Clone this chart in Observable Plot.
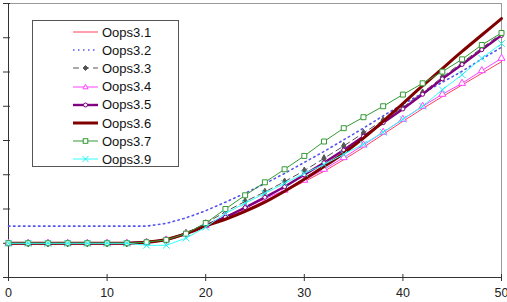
<!DOCTYPE html>
<html>
<head>
<meta charset="utf-8">
<script src="https://cdn.jsdelivr.net/npm/d3@7"></script>
<script src="https://cdn.jsdelivr.net/npm/@observablehq/plot@0.6"></script>
<style>
  html, body { margin: 0; padding: 0; background: white; overflow: hidden; }
  #wrap { position: relative; width: 507px; height: 302px; font-family: "Liberation Sans", Arial, sans-serif; }
  #legend { position: absolute; left: 32px; top: 20px; width: 147px; height: 147px; border: 1px solid #555; background: white; box-sizing: border-box; }
  .row { position: absolute; left: 0; height: 18px; display: flex; align-items: center; font-size: 13px; color: #111; }
  .row svg { margin-left: 40px; margin-right: 4px; }
</style>
</head>
<body>
<div id="wrap"><div id="legend"></div></div>
<script>
// ---- data ----
const xValues = [0, 2, 4, 6, 8, 10, 12, 14, 16, 18, 20, 22, 24, 26, 28, 30, 32, 34, 36, 38, 40, 42, 44, 46, 48, 50];
const seriesNames = ["Oops3.1", "Oops3.2", "Oops3.3", "Oops3.4", "Oops3.5", "Oops3.6", "Oops3.7", "Oops3.9"];
const oops31 = [1, 1, 1, 1, 1, 1, 1, 1.03, 1.1, 1.26, 1.48, 1.72, 1.97, 2.24, 2.52, 2.8, 3.1, 3.44, 3.8, 4.18, 4.56, 4.93, 5.28, 5.62, 5.96, 6.3];
const oops32 = [1.5, 1.5, 1.5, 1.5, 1.5, 1.5, 1.5, 1.5, 1.58, 1.74, 1.95, 2.2, 2.46, 2.74, 3.04, 3.36, 3.68, 4.02, 4.36, 4.72, 5.06, 5.38, 5.7, 6.02, 6.38, 6.72];
const oops33 = [1, 1, 1, 1, 1, 1, 1, 1.03, 1.1, 1.3, 1.58, 1.92, 2.22, 2.5, 2.8, 3.12, 3.48, 3.84, 4.22, 4.59, 4.97, 5.4, 5.85, 6.28, 6.7, 7.12];
const oops34 = [1, 1, 1, 1, 1, 1, 1, 1.03, 1.1, 1.27, 1.52, 1.79, 2.02, 2.3, 2.55, 2.84, 3.16, 3.5, 3.87, 4.24, 4.62, 5.0, 5.35, 5.67, 6.04, 6.4];
const oops35 = [1, 1, 1, 1, 1, 1, 1, 1.03, 1.1, 1.28, 1.52, 1.76, 2.04, 2.34, 2.65, 3.0, 3.35, 3.72, 4.12, 4.52, 4.92, 5.35, 5.8, 6.22, 6.65, 7.07];
const oops36 = [1, 1, 1, 1, 1, 1, 1, 1.03, 1.11, 1.28, 1.5, 1.7, 1.93, 2.2, 2.52, 2.87, 3.24, 3.63, 4.07, 4.56, 5.08, 5.6, 6.1, 6.6, 7.08, 7.56];
const oops37 = [1, 1, 1, 1, 1, 1, 1, 1.03, 1.1, 1.28, 1.59, 2.0, 2.4, 2.78, 3.16, 3.55, 3.97, 4.36, 4.68, 5.0, 5.34, 5.67, 6.01, 6.37, 6.79, 7.14];
const oops39 = [1, 1, 1, 1, 1, 1, 1, 0.94, 0.94, 1.15, 1.47, 1.87, 2.17, 2.46, 2.75, 3.04, 3.3, 3.6, 3.89, 4.24, 4.62, 5.0, 5.48, 5.92, 6.4, 6.83];
const xTicks = [0, 10, 20, 30, 40, 50];
const yTicks = [0, 1, 2, 3, 4, 5, 6, 7, 8];

// ---- styles ----
const seriesValues = [oops31, oops32, oops33, oops34, oops35, oops36, oops37, oops39];
const styles = [
  {stroke: "#ff4060", width: 1},
  {stroke: "#5555ee", width: 1.6, dash: "1.5,3.5"},
  {stroke: "#555555", width: 1, dash: "6,4", symbol: "diamond", r: 2.2, mfill: "#555555", mstroke: "#555555"},
  {stroke: "#ff40ff", width: 1, symbol: "triangle", r: 2.6, mfill: "white", mstroke: "#ff40ff"},
  {stroke: "#800080", width: 2.4, symbol: "circle", r: 2, mfill: "white", mstroke: "#800080"},
  {stroke: "#800000", width: 3, curve: "catmull-rom"},
  {stroke: "#339933", width: 1, symbol: "square", r: 2.8, mfill: "white", mstroke: "#339933"},
  {stroke: "#33ffff", width: 1, symbol: "times", r: 3.1, mfill: "none", mstroke: "#22eeee"}
];

const table = seriesNames.map((name, i) => xValues.map((x, j) => ({series: name, x, y: seriesValues[i][j]})));

const marks = [
  Plot.frame({stroke: "#999"}),
  Plot.axisY({ticks: yTicks, tickSize: 5, tickFormat: () => "", label: null, stroke: "#333"}),
  Plot.axisY({ticks: yTicks, tickSize: -2, tickFormat: () => "", label: null, stroke: "#333"}),
  Plot.axisX({ticks: xTicks, tickSize: 4, tickPadding: 7, label: null, stroke: "#333", fill: "#222"}),
  Plot.axisX({ticks: xTicks, tickSize: -3, tickFormat: () => "", label: null, stroke: "#333"}),
  Plot.ruleX([xTicks[0]], {stroke: "#333"}),
  Plot.ruleY([yTicks[0]], {stroke: "#333"})
];
table.forEach((data, i) => {
  const s = styles[i];
  marks.push(Plot.line(data, {x: "x", y: "y", stroke: s.stroke, strokeWidth: s.width,
    strokeDasharray: s.dash, curve: s.curve || "linear"}));
  if (s.symbol) {
    marks.push(Plot.dot(data, {x: "x", y: "y", symbol: s.symbol, r: s.r, fill: s.mfill,
      stroke: s.mstroke, strokeWidth: 1}));
  }
});

const chart = Plot.plot({
  width: 507, height: 302,
  marginLeft: 8, marginRight: 6, marginTop: 3, marginBottom: 25,
  x: {domain: [xTicks[0], xTicks[xTicks.length - 1]]},
  y: {domain: [yTicks[0], yTicks[yTicks.length - 1]]},
  style: {fontFamily: "'Liberation Sans', Arial, sans-serif", fontSize: "12.5px", background: "white", overflow: "visible"},
  marks
});
document.getElementById("wrap").prepend(chart);

// ---- legend ----
function markerSvg(s) {
  const c = 12.5, m = 9;
  switch (s.symbol) {
    case "diamond": return `<polygon points="${c},${m-2.5} ${c+2.5},${m} ${c},${m+2.5} ${c-2.5},${m}" fill="${s.mfill}" stroke="${s.mstroke}"/>`;
    case "triangle": return `<polygon points="${c},${m-2.6} ${c+2.5},${m+1.8} ${c-2.5},${m+1.8}" fill="${s.mfill}" stroke="${s.mstroke}"/>`;
    case "circle": return `<circle cx="${c}" cy="${m}" r="2" fill="${s.mfill}" stroke="${s.mstroke}"/>`;
    case "square": return `<rect x="${c-2.3}" y="${m-2.3}" width="4.6" height="4.6" fill="${s.mfill}" stroke="${s.mstroke}"/>`;
    case "times": return `<path d="M${c-3},${m-3}L${c+3},${m+3}M${c-3},${m+3}L${c+3},${m-3}" stroke="${s.mstroke}"/>`;
    default: return "";
  }
}
const legend = document.getElementById("legend");
seriesNames.forEach((name, i) => {
  const s = styles[i];
  const row = document.createElement("div");
  row.className = "row";
  row.style.top = (2 + i * 18.2) + "px";
  row.innerHTML = `<svg width="25" height="18"><line x1="0" x2="25" y1="9" y2="9" stroke="${s.stroke}" stroke-width="${s.width}" ${s.dash ? `stroke-dasharray="${s.dash}"` : ""}/>${markerSvg(s)}</svg><span>${name}</span>`;
  legend.appendChild(row);
});
</script>
</body>
</html>
